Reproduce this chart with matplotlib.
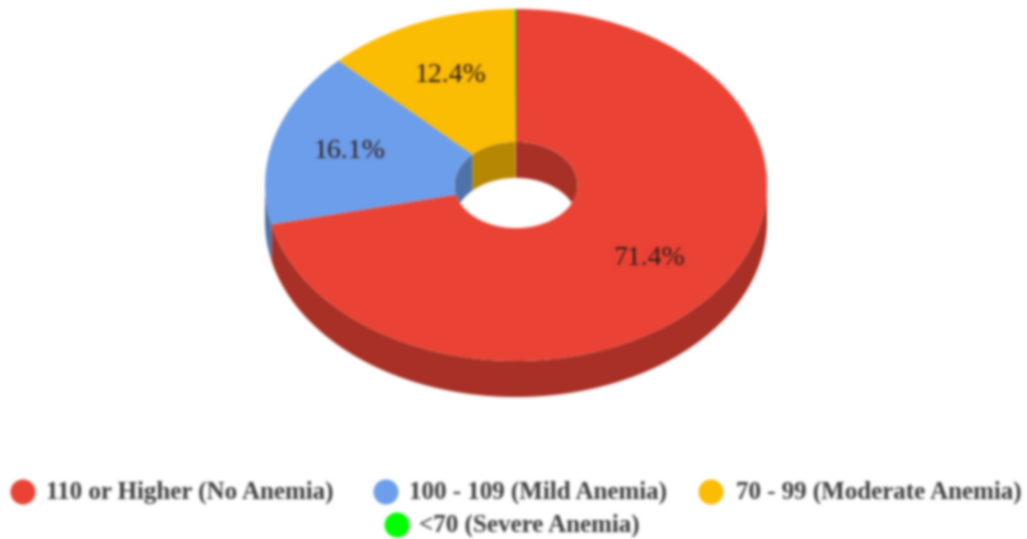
import numpy as np
import matplotlib
matplotlib.use("Agg")
import matplotlib.pyplot as plt
from matplotlib.patches import Wedge, Ellipse, Polygon

categories = ["110 or Higher (No Anemia)", "100 - 109 (Mild Anemia)",
              "70 - 99 (Moderate Anemia)", "<70 (Severe Anemia)"]
values = [71.4, 16.1, 12.4, 0.1]
labels = ["71.4%", "16.1%", "12.4%"]
colors = ["#EA4335", "#6D9EEB", "#FBBC04", "#00FF00"]

W, H = 1027, 539
CX, CY, RX, RY, DEPTH = 516, 185, 251, 176, 36
HOLE = 0.245
SHADE = 0.72
LABEL_RADII = [0.675, 0.69, 0.675]

plt.rcParams["font.family"] = ["Liberation Serif", "DejaVu Serif"]
fig = plt.figure(figsize=(W / 100, H / 100), dpi=100)
ax = fig.add_axes([0, 0, 1, 1])
# Unit-circle data space squashed into the pie's ellipse
ax.set_xlim(-CX / RX, (W - CX) / RX)
ax.set_ylim(-(H - CY) / RY, CY / RY)
ax.axis("off")
d = DEPTH / RY


def dark(c):
    return tuple(x * SHADE for x in matplotlib.colors.to_rgb(c))


def add_wall(a0, a1, radius, vis_lo, vis_hi, color, zorder, clip=None):
    """Extrude the part of an arc that lies in the visible angle range."""
    for shift in (-360, 0, 360):
        lo, hi = max(a0 + shift, vis_lo), min(a1 + shift, vis_hi)
        if lo >= hi:
            continue
        t = np.radians(np.linspace(lo, hi, 120))
        top = radius * np.c_[np.cos(t), np.sin(t)]
        bot = top[::-1] - [0, d]
        p = Polygon(np.r_[top, bot], closed=True, fc=color, ec="none", zorder=zorder)
        ax.add_patch(p)
        if clip is not None:
            p.set_clip_path(clip)


cum = np.cumsum([0] + values) / sum(values) * 360
starts, ends = 90 - cum[1:], 90 - cum[:-1]  # clockwise from 12 o'clock

# outer wall (front half of the rim)
for a0, a1, c in zip(starts, ends, colors):
    add_wall(a0, a1, 1, -180, 0, dark(c), 1)

# top face
for a0, a1, c in zip(starts, ends, colors):
    ax.add_patch(Wedge((0, 0), 1, a0, a1, fc=c, ec="none", zorder=2))

# hole: far inner wall, then the opening seen through it
hole = Ellipse((0, 0), 2 * HOLE, 2 * HOLE, transform=ax.transData)
opening = Ellipse((0, 0), 2 * HOLE, 2 * HOLE, fc="white", ec="none", zorder=3)
ax.add_patch(opening)
for a0, a1, c in zip(starts, ends, colors):
    add_wall(a0, a1, HOLE, 0, 180, dark(c), 4, clip=hole)

# value labels at each slice's mid angle
for a0, a1, s, r in zip(starts, ends, labels, LABEL_RADII):
    m = np.radians((a0 + a1) / 2)
    ax.text(r * np.cos(m), r * np.sin(m), s, ha="center", va="center",
            fontsize=20, color="#2e1a18", zorder=5)

# legend, laid out in two centred rows (pixel layout)
legend_layout = [(23, 492, 190), (386, 492, 538), (711, 492, 879), (397, 525, 529)]
trans = fig.transFigure
for (mx, my, tx), name, c in zip(legend_layout, categories, colors):
    fig.add_artist(Ellipse((mx / W, 1 - my / H), 25 / W, 25 / H, fc=c, ec="none",
                           transform=trans))
    fig.text(tx / W, 1 - my / H, name, ha="center", va="center", fontsize=18,
             fontweight="bold", color="#3c3c3c")

fig.savefig("out.png", dpi=100)

# soften the finished picture the way the reference is softened
img = plt.imread("out.png")[:, :, :3]
kernel = np.array([1, 4, 6, 4, 1], float) / 16
for _ in range(2):
    for axis in (0, 1):
        img = np.apply_along_axis(
            lambda v: np.convolve(np.pad(v, 2, mode="edge"), kernel, "valid"), axis, img)
plt.imsave("out.png", np.clip(img, 0, 1))
